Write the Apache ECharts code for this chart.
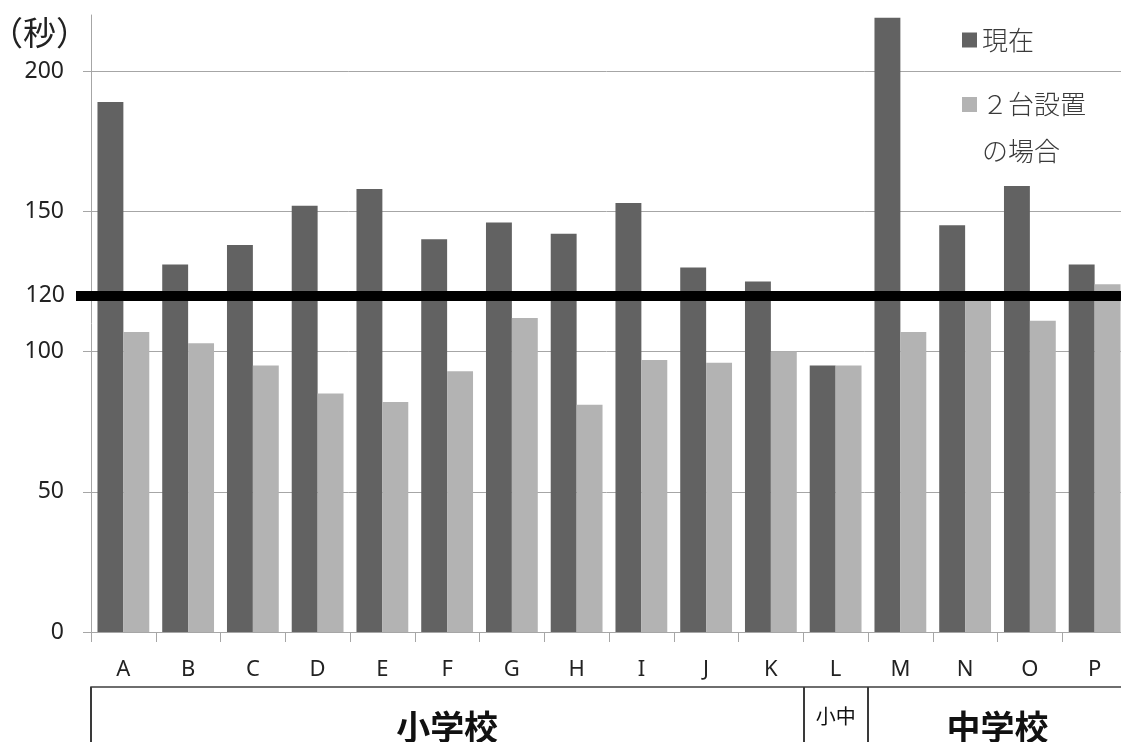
<!DOCTYPE html>
<html lang="ja">
<head>
<meta charset="utf-8">
<title>待ち時間の比較</title>
<script src="https://cdn.jsdelivr.net/npm/echarts/dist/echarts.min.js"></script>
<style>
  html, body { margin: 0; padding: 0; background: #fff; }
  #chart { width: 1121px; height: 742px; }
</style>
</head>
<body>
<div id="chart"></div>
<script>
// School codes along the x axis
const CATEGORIES = ['A', 'B', 'C', 'D', 'E', 'F', 'G', 'H', 'I', 'J', 'K', 'L', 'M', 'N', 'O', 'P'];

// Waiting time in seconds
const SERIES_NAMES = ['現在', '２台設置の場合'];
const CURRENT = [189, 131, 138, 152, 158, 140, 146, 142, 153, 130, 125, 95, 219, 145, 159, 131];
const TWO_UNITS = [107, 103, 95, 85, 82, 93, 112, 81, 97, 96, 100, 95, 107, 119, 111, 124];

// Target line
const TARGET = 120;

// Y axis ticks
const Y_TICKS = [0, 50, 100, 150, 200];

// School type groups: first category index and label (each runs until the next start)
const GROUP_STARTS = [0, 11, 12];
const GROUP_NAMES = ['小学校', '小中', '中学校'];

const FONT = '"Noto Sans CJK JP", "Noto Sans", sans-serif';
const LATIN_FONT = '"Noto Sans", "Noto Sans CJK JP", sans-serif';
const W = 1121;
const GRID_LEFT = 91;
const GRID_RIGHT = -6;
const BAND = (W - GRID_LEFT - GRID_RIGHT) / CATEGORIES.length;

// Each group label sits on the category nearest its centre, shifted to the exact centre
const groupLabelInfo = {};
GROUP_STARTS.forEach(function (start, g) {
  const end = g + 1 < GROUP_STARTS.length ? GROUP_STARTS[g + 1] : CATEGORIES.length;
  const centre = (start + end) / 2;
  const idx = Math.floor(centre - 0.5);
  const shift = (centre - (idx + 0.5)) * BAND;
  groupLabelInfo[idx] = { name: GROUP_NAMES[g], shift: shift, small: (end - start) === 1 };
});

const chart = echarts.init(document.getElementById('chart'), null, { renderer: 'canvas' });

const option = {
  animation: false,
  textStyle: { fontFamily: FONT },
  title: {
    text: '（秒）',
    left: -15,
    top: 11,
    textStyle: { fontSize: 33, fontWeight: 'normal', color: '#222', fontFamily: FONT }
  },
  legend: [
    {
      data: [{ name: SERIES_NAMES[0], icon: 'rect' }],
      left: 962,
      top: 25,
      padding: 0,
      orient: 'vertical',
      itemWidth: 15,
      itemHeight: 15,
      selectedMode: false,
      textStyle: { fontSize: 26, lineHeight: 30, color: '#3a3a3a', fontWeight: 300, fontFamily: FONT }
    },
    {
      // square icon sits level with the first text line
      data: [{ name: SERIES_NAMES[1], icon: 'path://M0,0H15V15H0Z M7,62L7.01,62' }],
      left: 962,
      top: 81,
      padding: 0,
      orient: 'vertical',
      itemWidth: 15,
      itemHeight: 62,
      selectedMode: false,
      formatter: function (name) { return name.slice(0, 4) + '\n' + name.slice(4); },
      textStyle: { fontSize: 26, lineHeight: 47, color: '#3a3a3a', fontWeight: 300, fontFamily: FONT }
    }
  ],
  grid: {
    left: GRID_LEFT,
    right: GRID_RIGHT,
    top: 15,
    bottom: 110,
    containLabel: false,
    outerBoundsMode: 'none'
  },
  xAxis: [
    {
      type: 'category',
      data: CATEGORIES,
      axisLine: { lineStyle: { color: '#a6a6a6', width: 1 } },
      axisTick: { show: true, interval: 0, length: 10, lineStyle: { color: '#a6a6a6' } },
      axisLabel: { interval: 0, margin: 27, fontSize: 22, color: '#222', fontFamily: LATIN_FONT },
      splitLine: { show: false }
    },
    {
      // school type band below the category labels
      type: 'category',
      data: CATEGORIES,
      position: 'bottom',
      offset: 55,
      axisLine: { show: true, lineStyle: { color: '#6e6e6e', width: 2 } },
      axisTick: {
        show: true,
        length: 55,
        interval: function (index) { return GROUP_STARTS.indexOf(index) >= 0; },
        lineStyle: { color: '#3a3a3a', width: 2 }
      },
      axisLabel: {
        margin: 20,
        interval: function (index) { return groupLabelInfo[index] !== undefined; },
        formatter: function (value, index) {
          const info = groupLabelInfo[index];
          if (!info) return '';
          if (info.small) return '{s|' + info.name + '}';
          return info.shift > 1 ? '{bs|' + info.name + '}' : '{b|' + info.name + '}';
        },
        rich: {
          b: { fontSize: 34, fontWeight: 'bold', lineHeight: 40, color: '#111', fontFamily: FONT },
          bs: {
            fontSize: 34, fontWeight: 'bold', lineHeight: 40, color: '#111', fontFamily: FONT,
            padding: [0, 0, 0, BAND]
          },
          s: { fontSize: 20, lineHeight: 18, color: '#111', fontFamily: FONT }
        }
      },
      splitLine: { show: false }
    }
  ],
  yAxis: {
    type: 'value',
    min: 0,
    max: 220,
    interval: 50,
    axisLine: { show: true, lineStyle: { color: '#a6a6a6', width: 1 } },
    axisTick: { show: true, length: 8, lineStyle: { color: '#a6a6a6' }, customValues: Y_TICKS },
    axisLabel: { customValues: Y_TICKS, margin: 27, fontSize: 23, color: '#222', fontFamily: LATIN_FONT },
    splitLine: { show: true, lineStyle: { color: '#a6a6a6', width: 1 } }
  },
  series: [
    {
      name: SERIES_NAMES[0],
      type: 'bar',
      data: CURRENT,
      barGap: '0%',
      barCategoryGap: '20%',
      itemStyle: { color: '#626262' },
      emphasis: { disabled: true },
      markLine: {
        silent: true,
        symbol: ['none', 'none'],
        lineStyle: { color: '#000', width: 10, type: 'solid' },
        label: {
          show: true,
          position: 'start',
          distance: 11,
          formatter: String(TARGET),
          fontSize: 23,
          color: '#222',
          fontFamily: LATIN_FONT
        },
        emphasis: { disabled: true },
        data: [[{ x: 76, yAxis: TARGET }, { x: '100%', yAxis: TARGET }]]
      }
    },
    {
      name: SERIES_NAMES[1],
      type: 'bar',
      data: TWO_UNITS,
      barGap: '0%',
      barCategoryGap: '20%',
      itemStyle: { color: '#b3b3b3' },
      emphasis: { disabled: true }
    }
  ]
};

chart.setOption(option);
</script>
</body>
</html>
